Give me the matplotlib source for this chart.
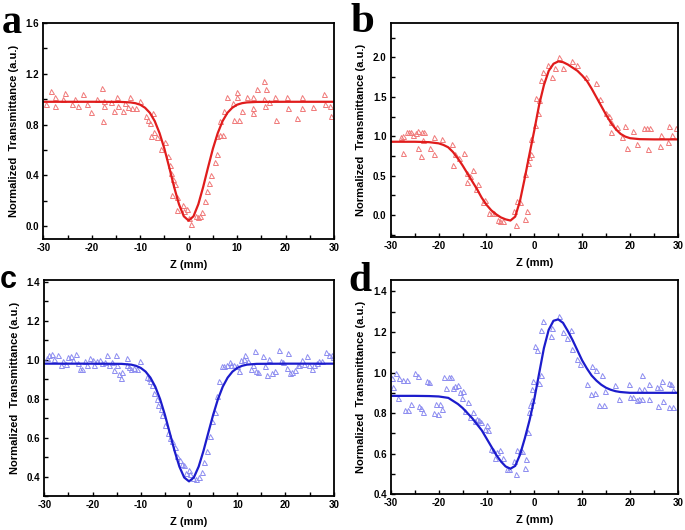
import matplotlib
matplotlib.use("Agg")
import matplotlib.pyplot as plt
from matplotlib.ticker import MultipleLocator, FormatStrFormatter

# ---------------- data ----------------
# panel a (open aperture, red)
a_x = [-29.5, -28.5, -27.5, -27.5, -26, -25.5, -24, -23.4, -22.8, -21.8, -21, -20.1, -19, -17.8, -17.6,
       -17.5, -17.4, -16, -15.5, -14.7, -14.5, -13.6, -13.1, -12.6, -12.1, -11.6, -10.8, -10.1, -8.9, -8.4,
       -8.0, -7.7, -7.3, -7.2, -6.6, -5.7, -4.8, -4.2, -3.9, -3.7, -3.5, -3.2, -2.8, -2.4, -2.4, -1.2, -0.9,
       -0.3, 0, 0.5, 1.5, 2.0, 2.3, 2.8, 3.3, 3.7, 4.2, 4.7, 5.5, 5.8, 5.9, 6.5, 6.4, 7.1, 7.3, 7.9, 9.2,
       9.3, 9.9, 10, 10.3, 11, 12.1, 13.2, 13.2, 13.3, 14.2, 15.6, 15.6, 15.8, 16, 16.6, 17.8, 18, 20.4,
       20.5, 22.3, 23.3, 23.4, 25.7, 27.9, 28.1, 29.1, 29.3]
a_y = [0.96, 1.066, 0.95, 1.02, 1.0, 1.05, 0.96, 1.0, 0.95, 1.04, 0.96, 0.90, 1.0, 1.09, 0.83,
       0.99, 0.95, 0.98, 0.91, 1.02, 0.95, 0.91, 0.97, 0.94, 1.02, 0.93, 0.93, 0.99, 0.87, 0.84,
       0.81, 0.71, 0.89, 0.74, 0.70, 0.61, 0.66, 0.55, 0.48, 0.42, 0.25, 0.37, 0.33, 0.23, 0.13, 0.17, 0.12,
       0.14, 0.065, 0.02, 0.08, 0.07, 0.08, 0.115, 0.20, 0.28, 0.34, 0.40, 0.51, 0.57, 0.71, 0.72, 0.83, 0.72,
       0.91, 1.02, 0.97, 0.84, 1.06, 1.02, 0.84, 0.91, 1.02, 0.93, 0.89, 1.02, 1.08, 1.14, 1.00, 0.95, 1.08,
       0.98, 1.02, 0.84, 1.02, 0.93, 0.85, 1.02, 0.93, 0.94, 1.04, 0.96, 0.95, 0.87]
a_fit_x = [-30, -20, -14, -12, -11, -10, -9, -8, -7, -6, -5, -4, -3, -2, -1, 0,
           1, 2, 3, 4, 5, 6, 7, 8, 9, 10, 11, 12, 14, 20, 30]
a_fit_y = [0.98, 0.98, 0.979, 0.975, 0.969, 0.957, 0.933, 0.893, 0.828, 0.733, 0.61, 0.463, 0.31, 0.174, 0.079, 0.045,
           0.079, 0.174, 0.31, 0.463, 0.61, 0.733, 0.828, 0.893, 0.933, 0.957, 0.969, 0.975, 0.979, 0.98, 0.98]

# panel b (closed aperture, red)
b_x = [-27.8, -27.4, -27.5, -26.7, -26.1, -25.7, -25.3, -24.7, -24.4, -24.2, -23.7, -23.5, -23.2, -23,
       -21.8, -21, -20.9, -19.2, -17.1, -16.9, -16.6, -15.7, -14.6, -14.1, -14.1, -13.4, -12.8, -12.1, -11.8,
       -10.8, -10.4, -9.4, -8.9, -8.4, -7.5, -7.1, -6.5, -4.2, -3.9, -3.7, -3.0, -2.0, -1.9, -1.5, -1.35,
       -1.07, -0.8, -0.6, 0.04, 0.3, 0.67, 1.0, 1.4, 1.85, 2.9, 3.6, 4.3, 5.05, 5.9, 7.9, 8.8, 10.7, 12.8,
       13.7, 14.9, 15.6, 15.9, 16.1, 17.2, 18.2, 19, 19.4, 20.7, 21.5, 22.9, 23.5, 23.8, 24.1, 26.3, 26.5,
       27.9, 28.1, 28.8, 29.5]
b_y = [0.99, 1.0, 0.79, 1.06, 1.06, 1.06, 1.02, 1.04, 0.85, 1.065, 0.75, 1.06, 0.95, 1.06,
       0.85, 0.985, 0.78, 0.96, 0.90, 0.63, 0.78, 0.73, 0.79, 0.53, 0.42, 0.50, 0.57, 0.33, 0.40,
       0.17, 0.19, 0.02, 0.02, 0.02, -0.06, -0.07, -0.07, 0.055, -0.13, 0.18, 0.165, -0.05, 0.52, 0.055, 0.655,
       0.74, 0.78, 0.97, 1.14, 1.49, 1.29, 1.46, 1.71, 1.82, 1.90, 1.75, 1.86, 2.0, 1.87, 1.95, 1.91, 1.75, 1.67,
       1.47, 1.29, 1.26, 1.05, 1.18, 1.12, 0.99, 1.13, 0.85, 1.065, 0.90, 1.10, 1.11, 0.84, 1.11, 0.88, 1.02,
       0.93, 1.13, 1.02, 1.11]
b_fit_x = [-30, -25, -22, -20, -19, -18, -17, -16, -15, -14, -13, -12, -11, -10, -9, -8, -7, -6, -5, -4,
           -3, -2, -1, 0, 1, 2, 3, 4, 5, 6, 7, 8, 9, 10, 11, 12, 13, 14, 15, 16, 17, 18, 19, 20, 22, 25, 30]
b_fit_y = [0.93, 0.93, 0.925, 0.91, 0.89, 0.86, 0.80, 0.72, 0.63, 0.53, 0.43, 0.33, 0.22, 0.13, 0.06, 0.01,
           -0.03, -0.055, -0.07, -0.02, 0.18, 0.47, 0.78, 1.08, 1.40, 1.65, 1.83, 1.92, 1.95, 1.94, 1.91, 1.87,
           1.83, 1.77, 1.70, 1.60, 1.49, 1.38, 1.27, 1.17, 1.09, 1.03, 0.995, 0.975, 0.963, 0.96, 0.96]

# panel c (open aperture, blue)
c_x = [-29.5, -28.96, -28.5, -27.9, -27.1, -26.5, -26.1, -25.6, -25.0, -24.5, -24.0, -23.5, -23.1, -22.6,
       -22.1, -21.6, -21.1, -20.5, -20.0, -19.6, -19.0, -18.5, -18.0, -17.4, -17.1, -16.5, -16.0, -15.5,
       -15.2, -14.9, -14.6, -14.2, -13.8, -12.9, -12.8, -12.4, -12.0, -11.4, -10.8, -10.2, -8.8, -8.4, -8.1,
       -7.6, -7.3, -6.7, -6.4, -5.9, -5.5, -5.0, -4.4, -3.9, -3.5, -2.9, -2.4, -1.9, -1.5, -1.1, -0.6, -0.1,
       0.3, 0.9, 1.4, 2.1, 2.7, 3.2, 3.8, 4.3, 4.8, 5.4, 5.8, 6.3, 6.8, 7.3, 7.8, 8.4, 8.8, 9.4, 9.9, 10.4,
       10.7, 11.3, 11.7, 12.3, 12.8, 13.2, 13.6, 13.8, 14.4, 15.3, 15.8, 16.1, 16.6, 17.3, 17.8, 18.6, 19.1,
       19.5, 20.4, 20.6, 20.9, 21.4, 21.9, 22.5, 22.8, 23.4, 23.9, 24.4, 24.9, 25.4, 25.9, 26.5, 27.0, 27.5,
       28.5, 29.0, 29.6, 29.9]
c_y = [1.009, 1.023, 1.03, 1.004, 1.026, 0.971, 0.992, 0.978, 1.016, 1.021, 1.0, 1.03, 0.985, 0.952,
       0.952, 0.995, 0.971, 1.009, 1.0, 0.971, 0.992, 1.0, 0.981, 0.988, 1.024, 0.975, 0.988, 0.947,
       1.023, 0.975, 0.927, 0.906, 0.937, 1.009, 0.975, 0.964, 0.954, 0.957, 0.952, 0.992, 0.913, 0.906, 0.892,
       0.872, 0.829, 0.796, 0.765, 0.746, 0.717, 0.666, 0.623, 0.597, 0.585, 0.554, 0.503, 0.486, 0.465, 0.46,
       0.417, 0.434, 0.412, 0.391, 0.388, 0.395, 0.422, 0.477, 0.529, 0.606, 0.683, 0.734, 0.812, 0.889, 0.966,
       0.97, 0.975, 0.988, 0.975, 0.975, 0.966, 0.944, 1.0, 1.002, 1.026, 0.992, 0.954, 0.971, 1.047, 0.94,
       0.937, 1.021, 0.966, 0.923, 1.005, 0.932, 0.944, 1.052, 0.992, 0.988, 0.957, 1.035, 0.932, 0.937, 0.945,
       0.975, 0.971, 1.0, 0.978, 1.021, 0.971, 0.954, 0.975, 0.983, 0.992, 0.995, 1.041, 1.026, 1.024, 1.012]
c_fit_x = [-30, -20, -14, -12, -11, -10, -9, -8, -7, -6, -5, -4, -3, -2, -1, 0,
           1, 2, 3, 4, 5, 6, 7, 8, 9, 10, 11, 12, 14, 20, 30]
c_fit_y = [0.98, 0.98, 0.979, 0.975, 0.969, 0.958, 0.939, 0.908, 0.862, 0.798, 0.717, 0.625, 0.532, 0.451, 0.395,
           0.375, 0.395, 0.451, 0.532, 0.625, 0.717, 0.798, 0.862, 0.908, 0.939, 0.958, 0.969, 0.975, 0.979, 0.98,
           0.98]

# panel d (closed aperture, blue)
d_x = [-29.7, -29.5, -29.0, -28.5, -28.3, -27.4, -27.0, -26.7, -26.4, -25.9, -25.0, -24.4, -24.1, -23.8,
       -23.4, -22.4, -22.0, -21.1, -20.6, -20.2, -19.7, -19.3, -19.0, -18.5, -17.9, -17.5, -17.0, -16.5,
       -16.0, -15.6, -15.2, -14.9, -14.5, -13.8, -13.5, -12.9, -12.5, -12.1, -11.5, -11.1, -10.4, -10.0, -9.6,
       -9.1, -8.6, -8.2, -7.9, -7.2, -6.6, -5.8, -5.2, -4.2, -3.9, -3.7, -3.1, -2.6, -1.9, -1.8, -1.4, -1.2,
       -0.9, -0.55, -0.55, -0.2, 0.15, 0.6, 1.05, 1.3, 1.35, 1.75, 3.4, 3.8, 5.2, 6.1, 6.8, 7.6, 7.8, 9.0,
       9.6, 11.0, 11.8, 12.1, 12.7, 12.9, 13.6, 14.2, 14.6, 14.8, 16.8, 17.8, 19.8, 20.0, 20.6, 21.4, 21.9,
       22.0, 22.5, 22.5, 23.0, 23.9, 24.1, 25.8, 25.6, 26.2, 26.7, 26.9, 28.1, 28.1, 28.6, 29.0, 29.1]
d_y = [0.975, 0.929, 0.998, 0.874, 0.975, 0.962, 0.817, 0.962, 0.817, 0.846, 1.0, 0.983, 0.835, 0.827,
       0.805, 0.957, 0.952, 0.80, 0.843, 0.797, 0.843, 0.818, 0.98, 0.926, 0.977, 0.978, 0.924, 0.934,
       0.94, 0.904, 0.876, 0.909, 0.81, 0.855, 0.78, 0.805, 0.761, 0.769, 0.764, 0.756, 0.72, 0.739, 0.715,
       0.624, 0.616, 0.578, 0.608, 0.619, 0.578, 0.525, 0.525, 0.563, 0.50, 0.616, 0.614, 0.612, 0.528, 0.573,
       0.706, 0.805, 0.838, 0.863, 0.92, 0.957, 1.13, 1.112, 0.95, 0.987, 1.212, 1.253, 1.178, 1.22, 1.278,
       1.20, 1.168, 1.212, 1.115, 1.069, 1.044, 0.945, 0.896, 1.031, 0.899, 1.011, 0.842, 0.986, 0.842, 0.907,
       0.94, 0.87, 0.942, 0.881, 0.881, 0.863, 0.868, 0.92, 0.986, 0.871, 0.92, 0.868, 0.942, 0.835, 0.929,
       0.927, 0.957, 0.858, 0.95, 0.83, 0.945, 0.83, 0.916]
d_fit_x = [-30, -25, -22, -20, -18, -16, -15, -14, -13, -12, -11, -10, -9, -8, -7, -6, -5, -4, -3, -2, -1,
           0, 1, 2, 3, 4, 5, 6, 7, 8, 9, 10, 11, 12, 13, 14, 15, 16, 17, 18, 20, 25, 30]
d_fit_y = [0.885, 0.885, 0.884, 0.882, 0.875, 0.845, 0.825, 0.80, 0.775, 0.745, 0.715, 0.675, 0.635, 0.595,
           0.562, 0.537, 0.526, 0.540, 0.595, 0.675, 0.765, 0.87, 0.995, 1.12, 1.21, 1.255, 1.262, 1.245,
           1.205, 1.16, 1.11, 1.06, 1.02, 0.985, 0.96, 0.94, 0.925, 0.915, 0.908, 0.904, 0.90, 0.90, 0.90]

# ---------------- styling ----------------
plt.rcParams['font.family'] = ['Liberation Sans', 'DejaVu Sans']
plt.rcParams['font.weight'] = 'bold'

fig = plt.figure(figsize=(6.85, 5.30), dpi=100)

RED_PT, RED_LN = '#f07878', '#e01c1c'
BLUE_PT, BLUE_LN = '#8c8cf0', '#1c1ccc'
SERIF = ['Liberation Serif', 'DejaVu Serif']
SANS = ['Liberation Sans', 'DejaVu Sans']

panels = [
    dict(label='a', rect=[0.0632, 0.549, 0.4244, 0.4076], x=a_x, y=a_y, fx=a_fit_x, fy=a_fit_y,
         pc=RED_PT, lc=RED_LN, ylim=(-0.1, 1.6), major=0.4, minor=0.2,
         lab_xy=(0.002, 0.938), lab_fs=29, lab_fam=SERIF),
    dict(label='b', rect=[0.5704, 0.5534, 0.4194, 0.4036], x=b_x, y=b_y, fx=b_fit_x, fy=b_fit_y,
         pc=RED_PT, lc=RED_LN, ylim=(-0.275, 2.44), major=0.5, minor=0.25,
         lab_xy=(0.512, 0.940), lab_fs=31, lab_fam=SERIF),
    dict(label='c', rect=[0.0647, 0.0642, 0.4225, 0.4075], x=c_x, y=c_y, fx=c_fit_x, fy=c_fit_y,
         pc=BLUE_PT, lc=BLUE_LN, ylim=(0.3, 1.41), major=0.2, minor=0.1,
         lab_xy=(0.0, 0.4566), lab_fs=22, lab_fam=SANS),
    dict(label='d', rect=[0.5708, 0.0674, 0.4185, 0.4043], x=d_x, y=d_y, fx=d_fit_x, fy=d_fit_y,
         pc=BLUE_PT, lc=BLUE_LN, ylim=(0.4, 1.456), major=0.2, minor=0.1,
         lab_xy=(0.508, 0.451), lab_fs=30, lab_fam=SERIF),
]

for p in panels:
    ax = fig.add_axes(p['rect'])
    ax.plot(p['x'], p['y'], linestyle='none', marker='^', markersize=3.6, markerfacecolor='none',
            markeredgecolor=p['pc'], markeredgewidth=0.7)
    ax.plot(p['fx'], p['fy'], color=p['lc'], linewidth=1.6, solid_capstyle='round', solid_joinstyle='round')
    ax.set_xlim(-30, 30)
    ax.set_ylim(*p['ylim'])
    ax.xaxis.set_major_locator(MultipleLocator(10))
    ax.xaxis.set_minor_locator(MultipleLocator(5))
    ax.yaxis.set_major_locator(MultipleLocator(p['major']))
    ax.yaxis.set_minor_locator(MultipleLocator(p['minor']))
    ax.yaxis.set_major_formatter(FormatStrFormatter('%.1f'))
    ax.xaxis.set_major_formatter(FormatStrFormatter('%d'))
    ax.tick_params(which='both', direction='in', length=3, width=1.0, top=False, right=False,
                   labelsize=7, pad=3)
    for lbl in ax.get_xticklabels() + ax.get_yticklabels():
        lbl.set_fontweight('bold')
    for s in ax.spines.values():
        s.set_linewidth(1.3)
    ax.set_xlabel('Z (mm)', fontsize=8, fontweight='bold', labelpad=5)
    ax.set_ylabel('Normalized  Transmittance (a.u.)', fontsize=8, fontweight='bold', labelpad=5)
    fig.text(p['lab_xy'][0], p['lab_xy'][1], p['label'], fontsize=p['lab_fs'], fontweight='bold',
             family=p['lab_fam'], va='baseline', ha='left')

fig.savefig('out.png', dpi=100)
